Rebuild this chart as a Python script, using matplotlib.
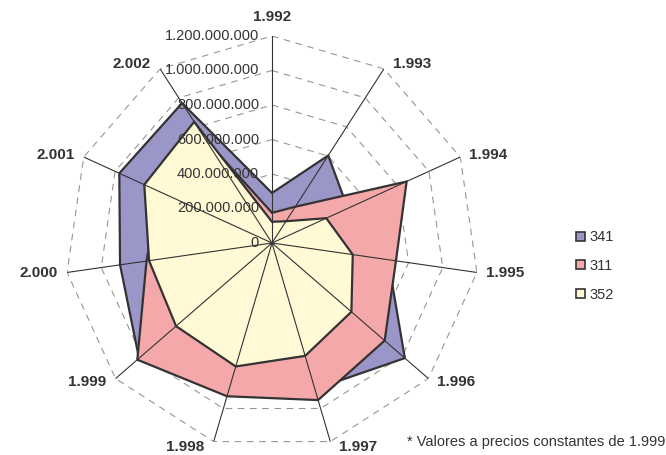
import numpy as np
import matplotlib
matplotlib.use("Agg")
import matplotlib.pyplot as plt
from matplotlib.patches import Patch

plt.rcParams['font.family'] = ['Liberation Sans', 'DejaVu Sans']

# ----------------------------------------
# Data
# ----------------------------------------
years = ["1.992", "1.993", "1.994", "1.995", "1.996", "1.997",
         "1.998", "1.999", "2.000", "2.001", "2.002"]

s341 = [290e6, 603e6, 483e6, 680e6, 1019e6, 883e6, 820e6, 1020e6, 890e6, 973e6, 964e6]
s311 = [175e6, 250e6, 858e6, 726e6, 864e6, 949e6, 926e6, 1033e6, 735e6, 720e6, 714e6]
s352 = [123e6, 150e6, 346e6, 473e6, 609e6, 682e6, 746e6, 736e6, 720e6, 814e6, 835e6]

series_names = ["341", "311", "352"]
series_colors = ["#9A96C8", "#F5A8AA", "#FFF9D5"]

ring_values = [0, 200e6, 400e6, 600e6, 800e6, 1000e6, 1200e6]
ring_labels = ["0", "200.000.000", "400.000.000", "600.000.000",
               "800.000.000", "1.000.000.000", "1.200.000.000"]

footnote = "* Valores a precios constantes de 1.999"

# ----------------------------------------
# Figure
# ----------------------------------------
fig = plt.figure(figsize=(6.66, 4.55), dpi=100)
ax = fig.add_axes([65 / 666, 5 / 455, 414 / 666, 414 / 455], polar=True)
ax.set_theta_zero_location('N')
ax.set_theta_direction(-1)
ax.patch.set_visible(False)
ax.grid(False)
ax.spines['polar'].set_visible(False)
ax.set_xticks([])
ax.set_yticks([])

n = len(years)
theta = np.linspace(0, 2 * np.pi, n, endpoint=False)
theta_c = np.append(theta, theta[0])
rmax = ring_values[-1]

# dashed polygon grid
for rv in ring_values[1:]:
    ax.plot(theta_c, [rv] * (n + 1), color='#A09292', lw=0.8,
            linestyle=(0, (6, 5)), zorder=1)

# filled series (341 behind, 352 in front)
for vals, col in zip([s341, s311, s352], series_colors):
    v = np.append(vals, vals[0])
    ax.fill(theta_c, v, facecolor=col, edgecolor='#333333', lw=1.6, zorder=2)

# spokes
for t in theta:
    ax.plot([t, t], [0, rmax], color='#333333', lw=0.8, zorder=3)

ax.set_ylim(0, rmax)

# value labels along the top spoke
for rv, lab in zip(ring_values, ring_labels):
    ax.annotate(lab, xy=(0, rv), xytext=(-13, 0), textcoords='offset pixels',
                ha='right', va='center', fontsize=10.5, color='#333333', zorder=5)

# category labels
for t, lab in zip(theta, years):
    s, c = np.sin(t), np.cos(t)
    if abs(s) < 1e-6:
        off, ha = (0, 19), 'center'
    else:
        off = (9 * np.sign(s), 6 * c)
        ha = 'left' if s > 0 else 'right'
    ax.annotate(lab, xy=(t, rmax), xytext=off, textcoords='offset pixels',
                ha=ha, va='center', fontsize=11, fontweight='bold',
                color='#333333', annotation_clip=False)

# legend
handles = [Patch(facecolor=c, edgecolor='#333333', lw=1.2) for c in series_colors]
fig.legend(handles, series_names, loc='center left',
           bbox_to_anchor=(576 / 666, 1 - 266 / 455), frameon=False,
           fontsize=10.5, handlelength=0.6, handleheight=0.6,
           handletextpad=0.35, labelspacing=1.0, borderpad=0, borderaxespad=0,
           labelcolor='#333333')

fig.text(0.999, 1 - 442 / 455, footnote, ha='right', va='center',
         fontsize=10.5, color='#333333')

fig.savefig("out.png", dpi=100)
